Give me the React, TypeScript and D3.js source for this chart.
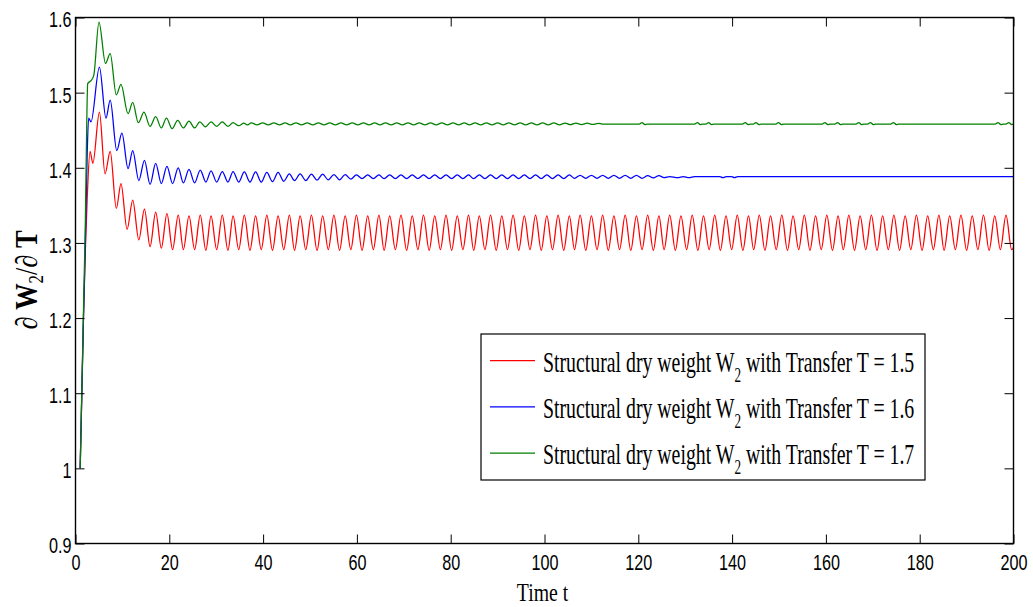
import React, { useEffect, useRef } from "react";
import * as d3 from "d3";

// axis ticks
const xTicks = [0, 20, 40, 60, 80, 100, 120, 140, 160, 180, 200];
const yTicks = [0.9, 1, 1.1, 1.2, 1.3, 1.4, 1.5, 1.6];

// legend entries
const legendTValues = ["1.5", "1.6", "1.7"];
const seriesColors = ["#ff0000", "#0000ff", "#008000"];

// extrema of each curve: [time t, dW2/dT]
const transfer15: [number, number][] = [
  [1.0, 1.0], [1.7, 1.2], [2.1, 1.29], [2.5, 1.36], [3.1, 1.422], [3.7, 1.406],
  [5.1, 1.474], [6.3, 1.392], [7.4, 1.422], [8.7, 1.346], [9.7, 1.379], [11.0, 1.318],
  [12.2, 1.357], [13.5, 1.304], [14.7, 1.345], [15.9, 1.295], [17.1, 1.341], [18.3, 1.293],
  [19.5, 1.339], [20.7, 1.291], [21.9, 1.337], [23.0, 1.291], [24.2, 1.336], [25.4, 1.291],
  [26.6, 1.337], [27.8, 1.290], [28.9, 1.336], [30.1, 1.291], [31.3, 1.337], [32.5, 1.290],
  [33.6, 1.336], [34.8, 1.291], [36.0, 1.337], [37.2, 1.290], [38.4, 1.336], [39.6, 1.291],
  [40.8, 1.337], [42.0, 1.290], [43.2, 1.336], [44.4, 1.291], [45.6, 1.337], [46.7, 1.290],
  [47.9, 1.336], [49.1, 1.291], [50.3, 1.337], [51.5, 1.290], [52.7, 1.336], [53.9, 1.291],
  [55.1, 1.337], [56.3, 1.290], [57.5, 1.336], [58.7, 1.291], [59.9, 1.337], [61.1, 1.290],
  [62.3, 1.336], [63.5, 1.291], [64.7, 1.337], [65.8, 1.290], [67.0, 1.336], [68.2, 1.291],
  [69.4, 1.337], [70.6, 1.290], [71.8, 1.336], [73.0, 1.291], [74.2, 1.337], [75.4, 1.290],
  [76.6, 1.336], [77.8, 1.291], [79.0, 1.337], [80.2, 1.290], [81.4, 1.336], [82.6, 1.291],
  [83.8, 1.337], [84.9, 1.290], [86.1, 1.336], [87.3, 1.291], [88.5, 1.337], [89.7, 1.290],
  [90.9, 1.336], [92.1, 1.291], [93.3, 1.337], [94.5, 1.290], [95.7, 1.336], [96.9, 1.291],
  [98.1, 1.337], [99.3, 1.290], [100.5, 1.336], [101.7, 1.291], [102.9, 1.337], [104.1, 1.290],
  [105.3, 1.336], [106.4, 1.291], [107.6, 1.337], [108.8, 1.290], [110.0, 1.336], [111.2, 1.291],
  [112.4, 1.337], [113.6, 1.290], [114.8, 1.336], [116.0, 1.291], [117.2, 1.337], [118.4, 1.290],
  [119.6, 1.336], [120.8, 1.291], [122.0, 1.337], [123.2, 1.290], [124.4, 1.336], [125.5, 1.291],
  [126.7, 1.337], [127.9, 1.290], [129.1, 1.336], [130.3, 1.291], [131.5, 1.337], [132.7, 1.290],
  [133.9, 1.336], [135.1, 1.291], [136.3, 1.337], [137.5, 1.290], [138.7, 1.336], [139.9, 1.291],
  [141.1, 1.337], [142.3, 1.290], [143.5, 1.336], [144.6, 1.291], [145.8, 1.337], [147.0, 1.290],
  [148.2, 1.336], [149.4, 1.291], [150.6, 1.337], [151.8, 1.290], [153.0, 1.336], [154.2, 1.291],
  [155.4, 1.337], [156.6, 1.290], [157.8, 1.336], [159.0, 1.291], [160.2, 1.337], [161.4, 1.290],
  [162.6, 1.336], [163.7, 1.291], [164.9, 1.337], [166.1, 1.290], [167.3, 1.336], [168.5, 1.291],
  [169.7, 1.337], [170.9, 1.290], [172.1, 1.336], [173.3, 1.291], [174.5, 1.337], [175.7, 1.290],
  [176.9, 1.336], [178.1, 1.291], [179.3, 1.337], [180.5, 1.290], [181.7, 1.336], [182.9, 1.291],
  [184.1, 1.337], [185.2, 1.290], [186.4, 1.336], [187.6, 1.291], [188.8, 1.337], [190.0, 1.290],
  [191.2, 1.336], [192.4, 1.291], [193.6, 1.337], [194.8, 1.290], [196.0, 1.336], [197.2, 1.291],
  [198.4, 1.337], [199.6, 1.291], [200.0, 1.294],
];

const transfer16: [number, number][] = [
  [1.0, 1.0], [1.7, 1.2], [2.1, 1.3], [2.5, 1.42], [2.8, 1.466], [3.3, 1.461],
  [5.1, 1.534], [6.5, 1.466], [7.4, 1.49], [8.8, 1.423], [9.9, 1.446], [11.2, 1.399],
  [12.2, 1.423], [13.5, 1.383], [14.7, 1.41], [15.9, 1.378], [17.1, 1.406], [18.3, 1.379],
  [19.5, 1.402], [20.7, 1.379], [21.9, 1.4], [23.0, 1.38], [24.2, 1.398], [25.4, 1.38],
  [26.6, 1.397], [27.8, 1.381], [28.9, 1.396], [30.1, 1.381], [31.3, 1.395], [32.5, 1.381],
  [33.6, 1.395], [34.8, 1.381], [36.0, 1.3945], [37.2, 1.381], [38.4, 1.3945], [39.6, 1.381],
  [40.8, 1.394], [42.0, 1.3815], [43.2, 1.394], [44.4, 1.382], [45.6, 1.392], [46.7, 1.383],
  [47.9, 1.392], [49.1, 1.383], [50.3, 1.3915], [51.5, 1.3835], [52.7, 1.3915], [53.9, 1.384],
  [55.1, 1.391], [56.3, 1.384], [57.5, 1.391], [58.7, 1.385], [59.9, 1.3905], [61.1, 1.3855],
  [62.3, 1.3905], [63.5, 1.3855], [64.7, 1.3905], [65.8, 1.3855], [67.0, 1.3905], [68.2, 1.3855],
  [69.4, 1.3905], [70.6, 1.3855], [71.8, 1.3905], [73.0, 1.3855], [74.2, 1.3905], [75.4, 1.3855],
  [76.6, 1.3905], [77.8, 1.3855], [79.0, 1.3905], [80.2, 1.3855], [81.4, 1.3905], [82.6, 1.3855],
  [83.8, 1.3905], [84.9, 1.3855], [86.1, 1.3905], [87.3, 1.3855], [88.5, 1.3905], [89.7, 1.3855],
  [90.9, 1.3905], [92.1, 1.3855], [93.3, 1.3905], [94.5, 1.3855], [95.7, 1.3905], [96.9, 1.3855],
  [98.1, 1.3905], [99.3, 1.3855], [100.5, 1.3905], [101.7, 1.3855], [102.9, 1.3905], [104.1, 1.3855],
  [105.3, 1.3905], [106.4, 1.386], [107.6, 1.39], [108.8, 1.386], [110.0, 1.39], [111.2, 1.386],
  [112.4, 1.39], [113.6, 1.386], [114.8, 1.39], [116.0, 1.386], [117.2, 1.39], [118.4, 1.386],
  [119.6, 1.39], [120.8, 1.386], [122.0, 1.3895], [123.2, 1.3865], [124.4, 1.3895], [125.5, 1.387],
  [126.7, 1.3883], [128.4, 1.3868], [129.6, 1.3883], [130.8, 1.3868], [132.0, 1.3883],
  [137.4, 1.3883], [138.0, 1.3868], [138.8, 1.3883], [139.9, 1.3883], [140.5, 1.3868],
  [141.2, 1.3883], [200.0, 1.3883],
];

const transfer17: [number, number][] = [
  [1.0, 1.0], [1.7, 1.21], [2.1, 1.33], [2.4, 1.46], [2.6, 1.512], [3.3, 1.516],
  [3.9, 1.523], [5.0, 1.594], [6.4, 1.539], [7.4, 1.552], [8.7, 1.497], [9.7, 1.511],
  [11.2, 1.472], [12.2, 1.487], [13.4, 1.46], [14.6, 1.474], [15.9, 1.455], [17.1, 1.468],
  [18.3, 1.453], [19.4, 1.466], [20.6, 1.452], [21.8, 1.463], [23.0, 1.453], [24.2, 1.462],
  [25.4, 1.453], [26.5, 1.461], [27.7, 1.4545], [28.9, 1.461], [30.1, 1.455], [31.3, 1.461],
  [32.5, 1.455], [33.6, 1.46], [34.8, 1.456], [35.9, 1.4595], [36.6, 1.457], [37.5, 1.4598],
  [38.7, 1.457], [39.9, 1.4598], [41.1, 1.457], [42.3, 1.4598], [43.5, 1.457], [44.7, 1.4598],
  [45.8, 1.457], [47.0, 1.4598], [48.2, 1.457], [49.4, 1.4598], [50.6, 1.457], [51.8, 1.4598],
  [53.0, 1.457], [54.2, 1.4598], [55.4, 1.457], [56.6, 1.4598], [57.8, 1.457], [59.0, 1.4598],
  [60.2, 1.457], [61.4, 1.4598], [62.6, 1.457], [63.8, 1.4598], [64.9, 1.457], [66.1, 1.4598],
  [67.3, 1.457], [68.5, 1.4598], [69.7, 1.457], [70.9, 1.4598], [72.1, 1.457], [73.3, 1.4598],
  [74.5, 1.457], [75.7, 1.4598], [76.9, 1.457], [78.1, 1.4598], [79.3, 1.457], [80.5, 1.4598],
  [81.7, 1.457], [82.9, 1.4598], [84.0, 1.457], [85.2, 1.4598], [86.4, 1.457], [87.6, 1.4598],
  [88.8, 1.457], [90.0, 1.4598], [91.2, 1.457], [92.4, 1.4598], [93.6, 1.457], [94.8, 1.4598],
  [96.0, 1.457], [97.2, 1.4598], [98.4, 1.457], [99.6, 1.4598], [100.8, 1.457], [102.0, 1.4598],
  [103.2, 1.4572], [104.4, 1.4596], [105.5, 1.4573], [106.7, 1.4595], [107.9, 1.4575], [109.1, 1.4594],
  [110.3, 1.4577], [111.5, 1.4592], [112.3, 1.4582],
  [120.2, 1.4582], [120.8, 1.4602], [121.4, 1.4576], [121.9, 1.4582],
  [132.0, 1.4582], [132.6, 1.4602], [133.2, 1.4576], [133.7, 1.4582],
  [134.4, 1.4582], [135.0, 1.4602], [135.6, 1.4576], [136.1, 1.4582],
  [142.2, 1.4582], [142.8, 1.4602], [143.4, 1.4576], [143.9, 1.4582],
  [144.5, 1.4582], [145.1, 1.4602], [145.7, 1.4576], [146.2, 1.4582],
  [149.3, 1.4582], [149.9, 1.4602], [150.5, 1.4576], [151.0, 1.4582],
  [159.2, 1.4582], [159.8, 1.4602], [160.4, 1.4576], [160.9, 1.4582],
  [161.9, 1.4582], [162.5, 1.4602], [163.1, 1.4576], [163.6, 1.4582],
  [166.4, 1.4582], [167.0, 1.4602], [167.6, 1.4576], [168.1, 1.4582],
  [168.9, 1.4582], [169.5, 1.4602], [170.1, 1.4576], [170.6, 1.4582],
  [173.8, 1.4582], [174.4, 1.4602], [175.0, 1.4576], [175.5, 1.4582],
  [196.1, 1.4582], [196.7, 1.4602], [197.3, 1.4576], [197.8, 1.4582],
  [198.4, 1.4582], [199.0, 1.4602], [199.6, 1.4576], [200.0, 1.4582],
];

const allSeries = [transfer15, transfer16, transfer17];

export default function App() {
  const ref = useRef<SVGSVGElement>(null);

  useEffect(() => {
    const margin = { top: 17.5, right: 19.5, bottom: 63.5, left: 75.5 };
    const width = 1033 - margin.left - margin.right;
    const height = 607 - margin.top - margin.bottom;

    const root = d3.select(ref.current);
    root.selectAll("*").remove();
    const svg = root
      .append("g")
      .attr("transform", "translate(" + margin.left + "," + margin.top + ")");

    const x = d3.scaleLinear().domain([0, 200]).range([0, width]);
    const y = d3.scaleLinear().domain([0.9, 1.6]).range([height, 0]);

    // curves
    const line = d3
      .line<[number, number]>()
      .x((d) => x(d[0]))
      .y((d) => y(d[1]))
      .curve(d3.curveMonotoneX);

    allSeries.forEach((s, i) => {
      svg
        .append("path")
        .datum(s)
        .attr("d", line)
        .attr("fill", "none")
        .attr("stroke", seriesColors[i])
        .attr("stroke-width", 1.25);
    });

    // axes, ticks pointing inward
    const tickFont = "'Liberation Sans', Arial, sans-serif";
    const sx = 0.72;

    const bottom = svg
      .append("g")
      .attr("transform", "translate(0," + height + ")")
      .call(
        d3.axisBottom(x).tickValues(xTicks).tickSizeInner(-9).tickSizeOuter(0).tickPadding(11)
          .tickFormat((d) => String(d))
      );
    bottom.selectAll("text")
      .attr("transform", "scale(" + sx + ",1)")
      .style("font-family", tickFont)
      .style("font-size", "22.5px")
      .attr("fill", "#000");

    const left = svg
      .append("g")
      .call(
        d3.axisLeft(y).tickValues(yTicks).tickSizeInner(-9).tickSizeOuter(0).tickPadding(4)
          .tickFormat((d) => String(d))
      );
    left.selectAll("text")
      .attr("x", -4 / sx)
      .attr("dy", "0.42em")
      .attr("transform", "scale(" + sx + ",1)")
      .style("font-family", tickFont)
      .style("font-size", "22.5px")
      .attr("fill", "#000");

    svg.append("g")
      .call(d3.axisTop(x).tickValues(xTicks).tickSizeInner(-9).tickSizeOuter(0).tickFormat(() => ""));
    svg.append("g")
      .attr("transform", "translate(" + width + ",0)")
      .call(d3.axisRight(y).tickValues(yTicks).tickSizeInner(-9).tickSizeOuter(0).tickFormat(() => ""));

    svg.selectAll(".domain").remove();
    svg.selectAll(".tick line").attr("stroke", "#000").attr("stroke-width", 1);

    svg.append("rect")
      .attr("width", width)
      .attr("height", height)
      .attr("fill", "none")
      .attr("stroke", "#000")
      .attr("stroke-width", 1.4);

    // axis titles
    root.append("g")
      .attr("transform", "translate(" + (margin.left + width / 2 - 2) + ",601) scale(0.76,1)")
      .append("text")
      .attr("text-anchor", "middle")
      .style("font-family", "'Liberation Serif', 'Times New Roman', serif")
      .style("font-size", "26px")
      .text("Time t");

    const yl = root.append("g")
      .attr("transform", "translate(37,280) rotate(-90) scale(0.85,1)")
      .append("text")
      .attr("text-anchor", "middle")
      .style("font-family", "'Liberation Serif', 'Times New Roman', serif")
      .style("font-size", "31px");
    yl.append("tspan").text("\u2202 ");
    yl.append("tspan").style("font-weight", "bold").text("W");
    yl.append("tspan").attr("dy", 6).style("font-size", "20px").text("2");
    yl.append("tspan").attr("dy", -6).text("/\u2202 ");
    yl.append("tspan").style("font-weight", "bold").text("T");

    // legend
    const lg = root.append("g");
    lg.append("rect")
      .attr("x", 481)
      .attr("y", 334)
      .attr("width", 444)
      .attr("height", 146)
      .attr("fill", "#fff")
      .attr("stroke", "#000")
      .attr("stroke-width", 1.2);

    legendTValues.forEach((tv, i) => {
      const ly = 360.7 + i * 46.2;
      lg.append("line")
        .attr("x1", 490)
        .attr("x2", 535)
        .attr("y1", ly)
        .attr("y2", ly)
        .attr("stroke", seriesColors[i])
        .attr("stroke-width", 1.2);
      const t = lg.append("g")
        .attr("transform", "translate(543," + (ly + 11) + ") scale(0.66,1)")
        .append("text")
        .style("font-family", "'Liberation Serif', 'Times New Roman', serif")
        .style("font-size", "30px")
        .attr("fill", "#000");
      t.append("tspan").text("Structural dry weight W");
      t.append("tspan").attr("dy", 10).style("font-size", "20px").text("2");
      t.append("tspan").attr("dy", -10).text(" with Transfer T = " + tv);
    });
  }, []);

  return (
    <svg
      ref={ref}
      width={1033}
      height={607}
      style={{ position: "absolute", left: 0, top: 0, background: "#fff" }}
    />
  );
}
